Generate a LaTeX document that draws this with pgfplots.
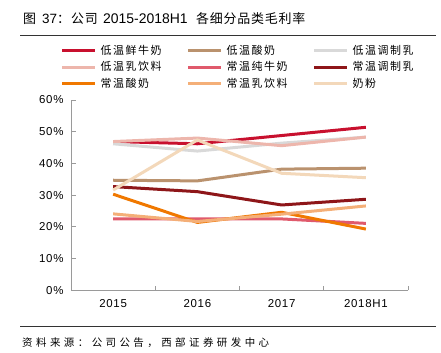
\documentclass[border=0pt]{standalone}
\usepackage{fontspec}
\setmainfont{Liberation Sans}
\newfontfamily\cjk{Noto Sans CJK SC}
\newfontfamily\cjkleg[LetterSpace=14]{Noto Sans CJK SC}
\newfontfamily\cjksrc[LetterSpace=33]{Noto Sans CJK SC}
\newfontfamily\cjktitle[LetterSpace=6]{Noto Sans CJK SC}
\newfontfamily\tickfont[LetterSpace=6]{Liberation Sans}
\usepackage{pgfplots}
\pgfplotsset{compat=1.18}
\definecolor{c1}{HTML}{C8102E}
\definecolor{c2}{HTML}{BA926E}
\definecolor{c3}{HTML}{D9D9D9}
\definecolor{c4}{HTML}{EDB6AC}
\definecolor{c5}{HTML}{E05A6C}
\definecolor{c6}{HTML}{8E1619}
\definecolor{c7}{HTML}{F07800}
\definecolor{c8}{HTML}{F4AF78}
\definecolor{c9}{HTML}{F3D8BA}
\definecolor{axgray}{HTML}{9A9A9A}
\newcommand{\leg}[1]{\makebox[82bp][l]{\fontsize{11}{11}\selectfont\cjkleg #1}}
\begin{document}
\begin{tikzpicture}
\path[use as bounding box] (0,0) rectangle (441bp,353bp);
\begin{scope}[every node/.style={anchor=west, inner sep=0pt}]
\node[font=\fontsize{13}{13}\selectfont] at (23bp,334bp) {\cjk 图};
\node[font=\fontsize{13.5}{13.5}\selectfont] at (42bp,334bp) {37};
\node[font=\fontsize{13}{13}\selectfont] at (57bp,334bp) {\cjk ：};
\node[font=\fontsize{13}{13}\selectfont] at (71bp,334bp) {\cjktitle 公司};
\node[font=\fontsize{14}{14}\selectfont] at (103bp,334bp) {2015-2018H1};
\node[font=\fontsize{13}{13}\selectfont] at (196bp,334bp) {\cjktitle 各细分品类毛利率};
\node[font=\fontsize{10.5}{10.5}\selectfont] at (22bp,10bp) {\cjksrc 资料来源：公司公告，西部证券研发中心};
\end{scope}
\draw[line width=0.8bp, black!80] (20bp,318bp) -- (436bp,318bp);
\draw[line width=0.8bp, black!80] (20bp,27bp) -- (436bp,27bp);
\begin{axis}[
  at={(71bp,62.7bp)}, anchor=south west,
  scale only axis, width=337bp, height=190.3bp,
  xmin=0, xmax=4, ymin=0, ymax=60,
  axis x line*=bottom, axis y line*=left,
  axis line style={axgray, line width=0.8bp},
  tick align=inside,
  xtick={0.5,1.5,2.5,3.5},
  xticklabels={2015,2016,2017,2018H1},
  major x tick style={draw=none},
  minor xtick={1,2,3,4},
  minor x tick style={axgray, line width=0.8bp},
  minor tick length=4.5bp,
  ytick={0,10,20,30,40,50,60},
  yticklabels={0\%,10\%,20\%,30\%,40\%,50\%,60\%},
  y tick style={axgray, line width=0.8bp},
  major tick length=4.5bp,
  tick label style={font=\fontsize{11.5}{11.5}\selectfont\tickfont, black},
  xticklabel style={yshift=-6bp},
  yticklabel style={xshift=-4bp},
  legend columns=3,
  legend style={at={(-0.031,1.2917)}, anchor=north west, draw=none, fill=none,
    inner sep=0pt, outer sep=0pt,
    nodes={inner sep=1bp, text height=9bp, text depth=2bp},
    /tikz/every odd column/.append style={column sep=3bp},
    /tikz/every even column/.append style={column sep=3bp},
    row sep=3.5bp},
  legend image code/.code={\draw[line width=3bp] (0bp,0bp) -- (33bp,0bp);},
  every axis plot/.append style={line width=3bp, mark=none},
]
\addplot[c1] coordinates {(0.5,46.9) (1.5,46.2) (2.5,48.8) (3.5,51.4)};
\addlegendentry{\leg{低温鲜牛奶}}
\addplot[c2] coordinates {(0.5,34.7) (1.5,34.5) (2.5,38.2) (3.5,38.5)};
\addlegendentry{\leg{低温酸奶}}
\addplot[c3] coordinates {(0.5,46.2) (1.5,43.9) (2.5,46.4) (3.5,48.3)};
\addlegendentry{\leg{低温调制乳}}
\addplot[c4] coordinates {(0.5,46.9) (1.5,48.0) (2.5,45.6) (3.5,48.3)};
\addlegendentry{\leg{低温乳饮料}}
\addplot[c5] coordinates {(0.5,22.5) (1.5,22.5) (2.5,22.5) (3.5,21.1)};
\addlegendentry{\leg{常温纯牛奶}}
\addplot[c6] coordinates {(0.5,32.7) (1.5,31.1) (2.5,26.9) (3.5,28.7)};
\addlegendentry{\leg{常温调制乳}}
\addplot[c7] coordinates {(0.5,30.3) (1.5,21.4) (2.5,24.6) (3.5,19.3)};
\addlegendentry{\leg{常温酸奶}}
\addplot[c8] coordinates {(0.5,24.1) (1.5,21.7) (2.5,24.0) (3.5,26.6)};
\addlegendentry{\leg{常温乳饮料}}
\addplot[c9] coordinates {(0.5,31.6) (1.5,47.4) (2.5,36.9) (3.5,35.5)};
\addlegendentry{\leg{奶粉}}
\end{axis}
\end{tikzpicture}
\end{document}
